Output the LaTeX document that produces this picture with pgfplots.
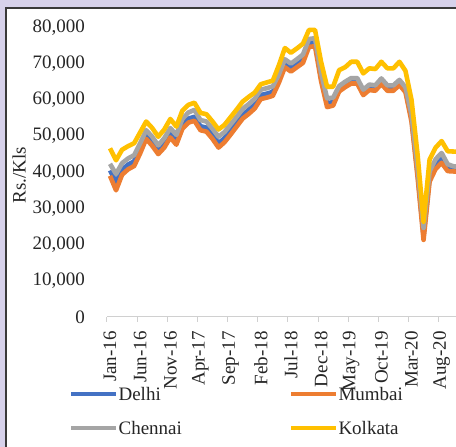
\documentclass[border=0pt]{standalone}
\usepackage{fontspec}
\setmainfont{Liberation Serif}
\usepackage{pgfplots}
\pgfplotsset{compat=1.18}
\usepackage{pgfplotstable}
\definecolor{delhi}{HTML}{4472C4}
\definecolor{mumbai}{HTML}{ED7D31}
\definecolor{chennai}{HTML}{A5A5A5}
\definecolor{kolkata}{HTML}{FFC000}
\definecolor{bgl}{RGB}{215,210,235}
\definecolor{panelb}{HTML}{3A3A3A}
\definecolor{axisgray}{HTML}{D0D0D0}
\definecolor{tcol}{HTML}{262626}
\pgfplotstableread{
m K C D M
0 46600 42300 40500 39000
1 43300 39500 37200 35000
2 46200 42500 40700 39300
3 47200 43800 42100 40800
4 48000 44700 43000 41700
5 51000 48000 46400 45200
6 54000 51600 50200 49200
7 52200 49800 48500 47300
8 49800 47400 46300 45000
9 51800 49400 48000 46800
10 54700 52200 50700 49600
11 52600 50300 48900 47600
12 57000 54700 53200 52000
13 58600 56500 54800 53700
14 59200 57200 55300 54200
15 56400 54400 52700 51600
16 56000 54000 52300 51200
17 54000 52000 50300 49200
18 51800 49800 48000 46800
19 53100 51100 49400 48300
20 55200 53200 51500 50400
21 57300 55300 53700 52600
22 59500 57500 55800 54800
23 60800 58800 57200 56100
24 62000 60300 58700 57600
25 64300 62800 61300 60200
26 64800 63200 61700 60600
27 65300 63700 62200 61100
28 69500 67000 65700 64700
29 74300 71200 70000 69000
30 73000 70000 68800 67800
31 74200 71200 70000 69000
32 75500 72500 71300 70200
33 79300 76800 75600 74600
34 79300 77000 75800 74800
35 70500 67500 66200 65200
36 63600 60400 59000 58000
37 63600 60600 59400 58400
38 68200 63800 63000 62300
39 69000 65000 64200 63500
40 70500 66000 65200 64500
41 70500 66000 65200 64500
42 67300 62800 62000 61300
43 68700 64200 63400 62700
44 68500 64000 63200 62500
45 70500 65900 65100 64400
46 68700 64000 63200 62500
47 68700 64000 63200 62500
48 70500 65500 64800 64100
49 68000 63500 62800 62100
50 60000 56000 55000 54000
51 45000 41500 40000 38800
52 26300 24600 22500 21300
53 43500 40200 38600 37400
54 46800 43600 42000 40900
55 48600 45300 43700 42600
56 45800 42200 41200 40300
57 45700 41600 40900 40200
58 45700 41500 40800 40100
}\atf
\begin{document}
\begin{tikzpicture}[x=1pt,y=1pt]
\fill[bgl] (0,0) rectangle (456,447);
\draw[fill=white, draw=panelb, line width=1.6pt] (5.8,439.2) rectangle (490,-40);
\begin{axis}[
  at={(107pt,130pt)}, anchor=south west,
  scale only axis, width=349pt, height=289.6pt,
  xmin=-0.5, xmax=57.38, ymin=0, ymax=80000,
  clip=false,
  axis x line*=bottom, axis y line*=left,
  x axis line style={draw=axisgray, line width=1pt},
  y axis line style={draw=none},
  every axis y label/.style={at={(axis description cs:-0.252,0.49)}, rotate=90, anchor=center, font=\fontsize{19}{23}\selectfont, text=tcol},
  ylabel={Rs./Kls},
  ytick={0,10000,20000,30000,40000,50000,60000,70000,80000},
  scaled y ticks=false,
  /pgf/number format/1000 sep={,},
  /pgf/number format/assume math mode=true,
  tick label style={font=\fontsize{19}{23}\selectfont, text=tcol},
  yticklabel style={anchor=east, inner sep=0pt},
  yticklabel shift=22pt,
  ytick style={draw=none},
  xtick={0,5,10,15,20,25,30,35,40,45,50,55},
  xticklabels={Jan-16,Jun-16,Nov-16,Apr-17,Sep-17,Feb-18,Jul-18,Dec-18,May-19,Oct-19,Mar-20,Aug-20},
  minor xtick={-0.5,4.5,9.5,14.5,19.5,24.5,29.5,34.5,39.5,44.5,49.5,54.5},
  tick align=outside,
  major tick length=0pt, minor tick length=5pt,
  xtick style={draw=axisgray, line width=1pt},
  minor x tick style={draw=axisgray, line width=1pt},
  xticklabel style={rotate=90, anchor=east, inner sep=0pt},
  xticklabel shift=14pt,
  legend columns=2,
  legend cell align=left,
  legend style={at={(axis description cs:-0.1089,-0.3246)}, anchor=west, draw=none, fill=none,
    inner sep=0pt, outer sep=0pt, row sep=21pt, font=\fontsize{19}{23}\selectfont, text=tcol,
    nodes={inner sep=0pt, text depth=0pt},
    /tikz/every even column/.append style={column sep=107pt},
    /tikz/every odd column/.append style={column sep=0pt}},
  legend image code/.code={\draw[line width=4.6pt] (0pt,0pt) -- (45pt,0pt);},
]
\addplot[delhi, line width=4.6pt, line join=round] table[x=m, y=D] {\atf};
\addlegendentry{Delhi}
\addplot[mumbai, line width=4.6pt, line join=round] table[x=m, y=M] {\atf};
\addlegendentry{Mumbai}
\addplot[chennai, line width=4.6pt, line join=round] table[x=m, y=C] {\atf};
\addlegendentry{Chennai}
\addplot[kolkata, line width=4.6pt, line join=round] table[x=m, y=K] {\atf};
\addlegendentry{Kolkata}
\end{axis}
\pgfresetboundingbox
\path[use as bounding box] (0,0) rectangle (456,447);
\end{tikzpicture}
\end{document}
